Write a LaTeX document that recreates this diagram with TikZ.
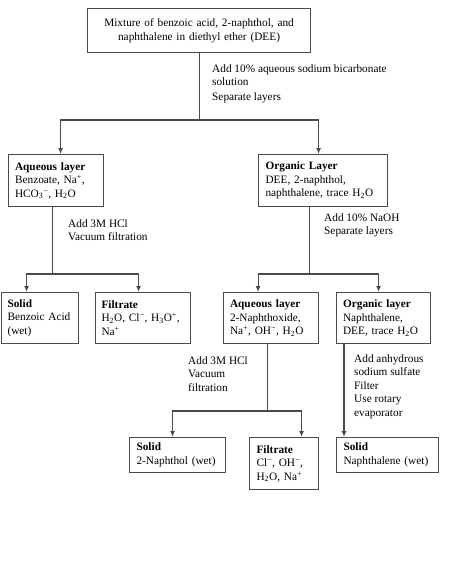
\documentclass[tikz,border=0pt]{standalone}
\usepackage{fontspec}
\setmainfont{Liberation Serif}
\usetikzlibrary{arrows.meta,calc}
\definecolor{ln}{HTML}{4A4A4A}
\newcommand\sups[1]{\textsuperscript{#1}}
\newcommand\subs[1]{\textsubscript{#1}}
\begin{document}
\begin{tikzpicture}[x=1pt,y=-1pt,
  txt/.style={font=\fontsize{11.3}{13.6}\selectfont},
  box/.style={txt,draw=ln,line width=1.1pt,anchor=north west,align=left,inner xsep=7pt,inner ysep=0pt},
  lbl/.style={txt,anchor=north west,align=left,inner sep=0pt},
  wire/.style={draw=ln,line width=1.1pt},
  arr/.style={wire,-{Latex[length=6pt,width=5pt]}}]
\useasboundingbox (0,0) rectangle (474,584);
% boxes
\node[box,align=center,text width=209pt,minimum height=44pt] (top) at (87,8)
  {Mixture of benzoic acid, 2-naphthol, and\\naphthalene in diethyl ether (DEE)};
\node[box,text width=82pt,inner xsep=6.5pt,minimum height=52pt] (aq1) at (8,154)
  {\textbf{Aqueous layer}\\Benzoate, Na\sups{+},\\HCO\subs{3}\sups{−}, H\subs{2}O};
\node[box,text width=115pt,minimum height=52pt] (org1) at (258,154)
  {\textbf{Organic Layer}\\DEE, 2-naphthol,\\naphthalene, trace H\subs{2}O};
\node[box,text width=65pt,inner xsep=6pt,minimum height=51pt] (sol1) at (1,292)
  {\textbf{Solid}\\Benzoic Acid\\(wet)};
\node[box,text width=83pt,inner xsep=6pt,minimum height=51pt] (fil1) at (95,292)
  {\textbf{Filtrate}\\H\subs{2}O, Cl\sups{−}, H\subs{3}O\sups{+},\\Na\sups{+}};
\node[box,text width=82pt,inner xsep=6.5pt,minimum height=51pt] (aq2) at (223,292)
  {\textbf{Aqueous layer}\\2-Naphthoxide,\\Na\sups{+}, OH\sups{−}, H\subs{2}O};
\node[box,text width=81pt,inner xsep=6.5pt,minimum height=51pt] (org2) at (336,292)
  {\textbf{Organic layer}\\Naphthalene,\\DEE, trace H\subs{2}O};
\node[box,text width=82pt,minimum height=35pt] (sol2) at (129,437)
  {\textbf{Solid}\\2-Naphthol (wet)};
\node[box,text width=55pt,minimum height=52pt] (fil2) at (249,437)
  {\textbf{Filtrate}\\Cl\sups{−}, OH\sups{−},\\H\subs{2}O, Na\sups{+}};
\node[box,text width=88pt,minimum height=35pt] (sol3) at (336,437)
  {\textbf{Solid}\\Naphthalene (wet)};
% labels
\node[lbl] (l1) at (212,64) {Add 10\% aqueous sodium bicarbonate\\solution\\[1.5pt]Separate layers};
\node[lbl] (l2) at (68,219) {Add 3M HCl\\Vacuum filtration};
\node[lbl] (l3) at (324,213) {Add 10\% NaOH\\Separate layers};
\node[lbl] (l4) at (188,356) {Add 3M HCl\\Vacuum\\filtration};
\node[lbl] (l5) at (354,354) {Add anhydrous\\sodium sulfate\\Filter\\Use rotary\\evaporator};
% junctions
\coordinate (j1) at (top.south |- 0,120);
\coordinate (j2) at ($(aq1.south)+(-3.5,0)$);
\coordinate (j2b) at (j2 |- 0,274);
\coordinate (j3) at ($(org1.south)+(-13.5,0)$);
\coordinate (j3b) at (j3 |- 0,274);
\coordinate (j4) at ($(aq2.south)+(-3.5,0)$);
\coordinate (j4b) at (j4 |- 0,411);
\coordinate (j5) at ($(org2.south west)+(8,0)$);
% connectors
\draw[wire] (top.south) -- (j1);
\draw[arr] (j1) -| ($(aq1.north)+(4.5,0)$);
\draw[arr] (j1) -| ($(org1.north)+(-4.5,0)$);
\draw[wire] (j2) -- (j2b);
\draw[arr] (j2b) -| ($(sol1.north)+(-13.5,0)$);
\draw[arr] (j2b) -| ($(fil1.north)+(-4.5,0)$);
\draw[wire] (j3) -- (j3b);
\draw[arr] (j3b) -| ($(aq2.north)+(-13,0)$);
\draw[arr] (j3b) -| ($(org2.north)+(-5,0)$);
\draw[wire] (j4) -- (j4b);
\draw[arr] (j4b) -| ($(sol2.north)+(-5,0)$);
\draw[arr] (j4b) -| ($(fil2.north)+(17.5,0)$);
\draw[arr] (j5) -- ($(sol3.north west)+(8,0)$);
\end{tikzpicture}
\end{document}
